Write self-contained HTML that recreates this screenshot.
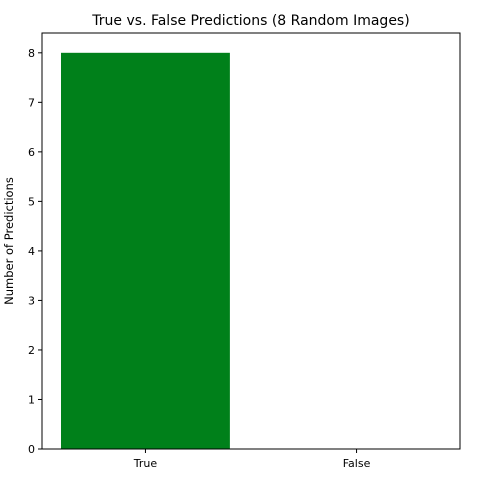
<!DOCTYPE html>
<html><head><meta charset="utf-8"><style>
html,body{margin:0;padding:0;background:#fff;}
svg text{font-family:"DejaVu Sans","Liberation Sans",sans-serif;fill:#000;}
</style></head><body>
<svg id="chart" width="501" height="480" xmlns="http://www.w3.org/2000/svg">
<text x="251" y="25" font-size="14" text-anchor="middle">True vs. False Predictions (8 Random Images)</text>
<text transform="translate(13,241) rotate(-90)" font-size="11.5" text-anchor="middle">Number of Predictions</text>
<g id="marks"></g>
<rect x="42" y="33" width="418" height="416" fill="none" stroke="#000" stroke-width="1"/>
</svg>
<script>
const categories = ["True", "False"];
const counts = [8, 0];
const yTicks = [0, 1, 2, 3, 4, 5, 6, 7, 8];
const colors = ["#00801a", "#d62728"];

const L = 42, R = 460, T = 33, B = 449;
const xMin = -0.49, xMax = 1.49, yMin = 0, yMax = 8.4;
const xs = v => L + (v - xMin) / (xMax - xMin) * (R - L);
const ys = v => B - (v - yMin) / (yMax - yMin) * (B - T);
const NS = "http://www.w3.org/2000/svg";
const g = document.getElementById("marks");
function mk(tag, attrs) { const e = document.createElementNS(NS, tag); for (const k in attrs) e.setAttribute(k, attrs[k]); g.appendChild(e); return e; }

categories.forEach((c, i) => {
  const x0 = xs(i - 0.4), x1 = xs(i + 0.4);
  const y0 = ys(counts[i]);
  const r = mk("rect", { x: x0, y: y0, width: x1 - x0, height: ys(0) - y0, fill: colors[i] });
  
  
  const t = mk("line", { x1: xs(i), x2: xs(i), y1: B, y2: B + 4, stroke: "#000" });
  
  
  const lb = mk("text", { x: xs(i), y: B + 18, "font-size": "11", "text-anchor": "middle" });
  lb.textContent = c;
  
  
});
yTicks.forEach(v => {
  const y = ys(v);
  const t = mk("line", { x1: L - 4, x2: L, y1: y, y2: y, stroke: "#000" });
  
  
  const lb = mk("text", { x: L - 7, y: y + 4, "font-size": "11", "text-anchor": "end" });
  lb.textContent = v;
  
  
});
</script>
</body></html>
